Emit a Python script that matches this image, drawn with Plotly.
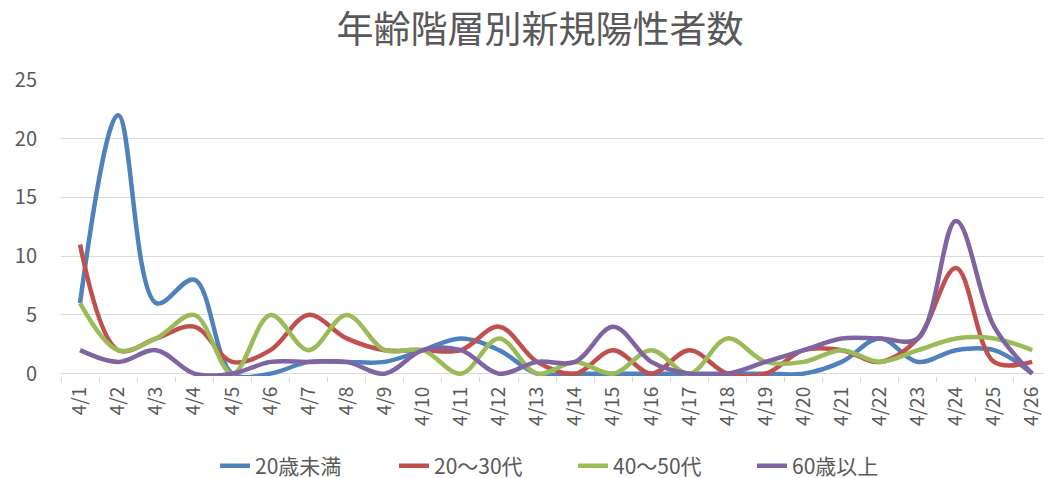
import plotly.graph_objects as go

dates = [f"4/{d}" for d in range(1, 27)]
series_names = ["20歳未満", "20～30代", "40～50代", "60歳以上"]
under20 = [6, 22, 6, 8, 0, 0, 1, 1, 1, 2, 3, 2, 0, 0, 0, 0, 0, 0, 0, 0, 1, 3, 1, 2, 2, 0]
age20_30 = [11, 2, 3, 4, 1, 2, 5, 3, 2, 2, 2, 4, 1, 0, 2, 0, 2, 0, 0, 2, 2, 1, 3, 9, 1, 1]
age40_50 = [6, 2, 3, 5, 0, 5, 2, 5, 2, 2, 0, 3, 0, 1, 0, 2, 0, 3, 1, 1, 2, 1, 2, 3, 3, 2]
over60 = [2, 1, 2, 0, 0, 1, 1, 1, 0, 2, 2, 0, 1, 1, 4, 1, 0, 0, 1, 2, 3, 3, 3, 13, 4, 0]
colors = ["#4F81BD", "#C0504D", "#9BBB59", "#8064A2"]
y_ticks = [0, 5, 10, 15, 20, 25]

FONT = "Noto Sans CJK JP"
GREY = "#595959"

fig = go.Figure()
for name, vals, col in zip(series_names, [under20, age20_30, age40_50, over60], colors):
    fig.add_trace(go.Scatter(
        x=dates, y=vals, name=name, mode="lines",
        line=dict(color=col, width=4.5, shape="spline", smoothing=1.0),
    ))

fig.update_layout(
    width=1044, height=478,
    margin=dict(l=61, r=0, t=80, b=102),
    paper_bgcolor="white", plot_bgcolor="white",
    font=dict(family=FONT, color=GREY),
    title=dict(text="年齢階層別新規陽性者数", x=540 / 1044, xanchor="center",
               y=1 - 30 / 478, yanchor="middle", yref="container",
               font=dict(size=37, color=GREY, family=FONT)),
    legend=dict(orientation="h", x=573 / 1044, xanchor="center", xref="container",
                y=(478 - 466) / 478, yanchor="middle", yref="container",
                font=dict(size=21, color=GREY, family=FONT),
                entrywidth=134, entrywidthmode="pixels"),
    xaxis=dict(type="category", range=[-0.5, 25.31], tickangle=-90,
               tickfont=dict(size=19, color=GREY, family=FONT),
               showgrid=False, showline=False, ticks="outside",
               tickson="boundaries", ticklen=5, tickcolor="#D9D9D9",
               ticklabelstandoff=6),
    yaxis=dict(range=[-0.2, 25], tickvals=y_ticks,
               tickfont=dict(size=20, color=GREY, family=FONT),
               showgrid=True, gridcolor="#D9D9D9", gridwidth=1,
               zeroline=True, zerolinecolor="#D9D9D9", zerolinewidth=1,
               showline=False, ticks="", ticklabelstandoff=23),
    showlegend=True,
)

fig.write_html("out.html", config={"displayModeBar": False},
               post_script="document.body.style.margin='0';document.body.style.overflow='hidden';")
